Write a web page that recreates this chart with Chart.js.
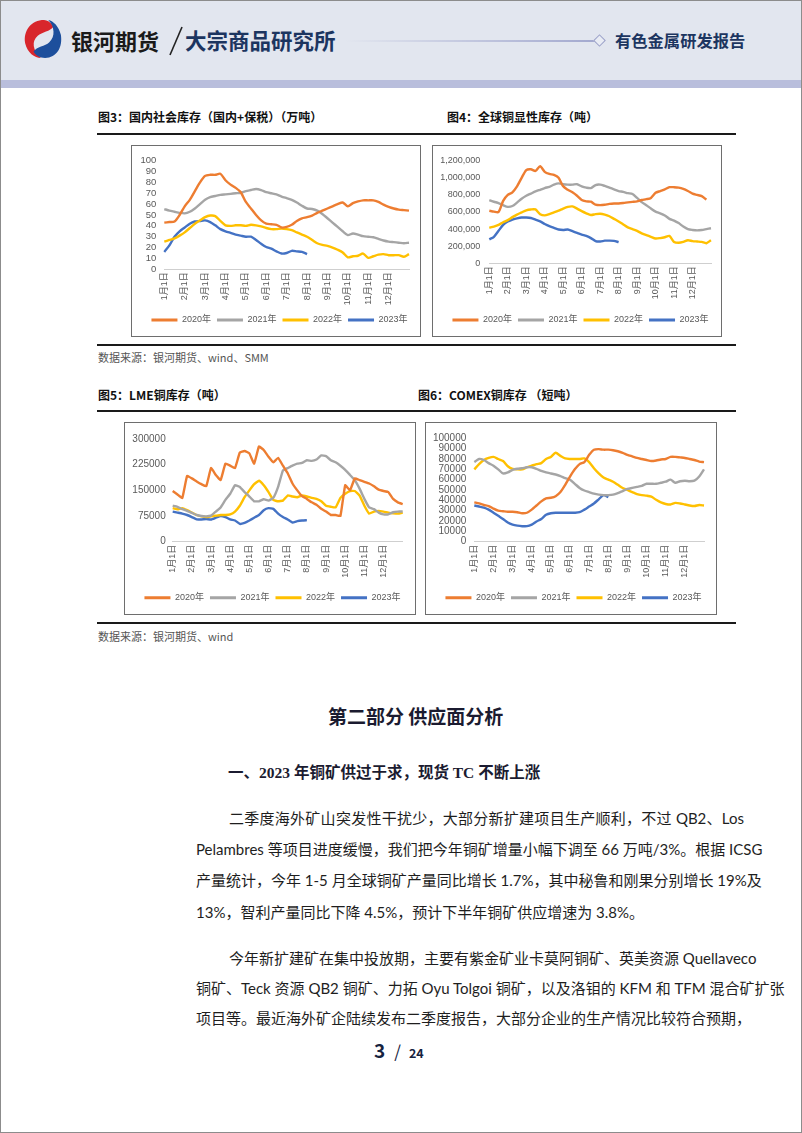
<!DOCTYPE html>
<html><head><meta charset="utf-8">
<script src="https://cdn.jsdelivr.net/npm/chart.js@4.4.0/dist/chart.umd.min.js"></script>
<style>
html,body{margin:0;padding:0;background:#fff;}
body{width:802px;height:1133px;position:relative;overflow:hidden;font-family:"Noto Sans CJK SC",sans-serif;}
.abs{position:absolute;white-space:nowrap;}
#frame{position:absolute;left:0;top:0;width:800px;height:1131px;border:1px solid #8c8c8c;}
#hdr{position:absolute;left:1px;top:1px;width:800px;height:79px;background:#e2e6ef;}
#band{position:absolute;left:1px;top:80px;width:800px;height:8px;background:#b9bedc;}
.cap{font-size:12px;font-weight:700;color:#111;line-height:16px;}
.rule{position:absolute;height:1.5px;background:#1a1a1a;left:97px;width:639px;}
.box{position:absolute;border:1px solid #6e6e6e;overflow:hidden;background:#fff;}
.box canvas{position:absolute;left:0;top:0;}
.src{font-size:11px;color:#555;line-height:14px;}
.p{position:absolute;font-size:15px;line-height:22px;color:#1e1e1e;font-family:Lato,"Noto Sans CJK SC",sans-serif;white-space:nowrap;text-align:justify;text-align-last:justify;}
</style></head>
<body>
<div id="frame"></div>
<div id="hdr"></div>
<div id="band"></div>
<svg class="abs" style="left:22px;top:18px" width="42" height="42" viewBox="0 0 40 40">
 <path d="M21 2 C9 2 1 12 3 24 C5 33 12 38 18 38 C10 31 9 22 15 17 C19 13 27 13 30 8 C27 4 24 2 21 2Z" fill="#d8262c"/>
 <path d="M22 38 C33 38 39 28 37 16 C35 8 30 3 25 2 C31 8 32 18 26 23 C22 27 14 27 11 32 C13 36 17 38 22 38Z" fill="#1d4f9c"/>
</svg>
<div class="abs" style="left:71px;top:25px;font-size:22px;font-weight:700;color:#1a1a1a;line-height:30px;">银河期货</div>
<svg class="abs" style="left:166px;top:24px" width="20" height="34"><line x1="4" y1="31" x2="16" y2="3" stroke="#222" stroke-width="1.6"/></svg>
<div class="abs" style="left:185px;top:25px;font-size:21.5px;font-weight:700;color:#1c3560;line-height:30px;">大宗商品研究所</div>
<div class="abs" style="left:345px;top:40px;width:250px;height:1.5px;background:linear-gradient(to right,rgba(170,176,210,0),#a3a9cf);"></div>
<div class="abs" style="left:595px;top:36px;width:7px;height:7px;border:1px solid #9aa0c8;transform:rotate(45deg);background:#e9ecf4;"></div>
<div class="abs" style="left:615px;top:29px;font-size:16.3px;font-weight:700;color:#1c3560;line-height:22px;">有色金属研发报告</div>

<div class="abs cap" style="left:98px;top:109px;">图3：国内社会库存（国内+保税）（万吨）</div>
<div class="abs cap" style="left:447px;top:109px;">图4：全球铜显性库存（吨）</div>
<div class="rule" style="top:133px;"></div>
<div class="box" style="left:131px;top:145px;width:288px;height:190px;"><canvas id="c3" width="288" height="200"></canvas></div>
<div class="box" style="left:432px;top:145px;width:288px;height:190px;"><canvas id="c4" width="288" height="200"></canvas></div>
<div class="rule" style="top:344px;"></div>
<div class="abs src" style="left:98px;top:350px;">数据来源：银河期货、wind、SMM</div>

<div class="abs cap" style="left:98px;top:387px;">图5：LME铜库存（吨）</div>
<div class="abs cap" style="left:418px;top:387px;">图6：COMEX铜库存 （短吨）</div>
<div class="rule" style="top:410px;"></div>
<div class="box" style="left:124px;top:422px;width:290px;height:191px;"><canvas id="c5" width="290" height="200"></canvas></div>
<div class="box" style="left:425px;top:422px;width:290px;height:191px;"><canvas id="c6" width="290" height="200"></canvas></div>
<div class="rule" style="top:622px;"></div>
<div class="abs src" style="left:98px;top:629px;">数据来源：银河期货、wind</div>

<div class="abs" style="left:328px;top:703px;font-size:19px;font-weight:700;color:#1b1b30;line-height:26px;">第二部分 供应面分析</div>
<div class="abs" style="left:228px;top:762px;font-size:15.5px;font-weight:700;color:#1b1b30;line-height:22px;font-family:'Liberation Serif','Noto Sans CJK SC',serif;">一、2023 年铜矿供过于求，现货 TC 不断上涨</div>

<div class="p" style="left:229px;top:807px;width:515px;">二季度海外矿山突发性干扰少，大部分新扩建项目生产顺利，不过 QB2、Los</div>
<div class="p" style="left:196px;top:838px;width:548px;">Pelambres 等项目进度缓慢，我们把今年铜矿增量小幅下调至 66 万吨/3%。根据 ICSG</div>
<div class="p" style="left:196px;top:869px;width:548px;">产量统计，今年 1-5 月全球铜矿产量同比增长 1.7%，其中秘鲁和刚果分别增长 19%及</div>
<div class="p" style="left:196px;top:901px;text-align:left;text-align-last:left;">13%，智利产量同比下降 4.5%，预计下半年铜矿供应增速为 3.8%。</div>
<div class="p" style="left:229px;top:947px;width:515px;">今年新扩建矿在集中投放期，主要有紫金矿业卡莫阿铜矿、英美资源 Quellaveco</div>
<div class="p" style="left:196px;top:977px;width:548px;">铜矿、Teck 资源 QB2 铜矿、力拓 Oyu Tolgoi 铜矿，以及洛钼的 KFM 和 TFM 混合矿扩张</div>
<div class="p" style="left:196px;top:1007px;width:548px;">项目等。最近海外矿企陆续发布二季度报告，大部分企业的生产情况比较符合预期，</div>

<div class="abs" style="left:374px;top:1038px;line-height:24px;color:#17233f;font-family:'Noto Sans CJK SC',sans-serif;">
<span style="font-size:19px;font-weight:700;">3</span><span style="font-size:17px;margin:0 8px 0 9px;">/</span><span style="font-size:12.5px;font-weight:700;">24</span></div>

<script>
// ---- categories & ticks ----
const categories = [];
for (let m = 1; m <= 12; m++) { for (const d of [1, 8, 16, 23]) categories.push(m + '月' + d + '日'); }
categories.push('12月31日');
const tickLabels = ['1月1日','2月1日','3月1日','4月1日','5月1日','6月1日','7月1日','8月1日','9月1日','10月1日','11月1日','12月1日'];
const seriesNames = ['2020年','2021年','2022年','2023年'];
const seriesColors = ['#ED7D31','#A5A5A5','#FFC000','#4472C4'];

// ---- 图3 国内社会库存（万吨） ----
const dom2020 = [43,43.5,44,50, 58,64,72,80, 86,87,87,88, 82,78,75,71, 62,56,50,45, 42,41.5,41,38.5, 39,41,44.5,47, 48,49.5,52,54, 56,58,60,61.5, 58,61,62.5,63.5, 63.5,63.5,62,59.5, 57.5,56,55,54.5,54];
const dom2021 = [55.5,54,53,52, 51.5,53,56,60, 64,66.5,67.5,68.5, 69,69.5,70,70.5, 72,73,74,73, 71,70,69,67, 65.5,64,61.5,58.5, 56,55.5,54,51, 47,43,39,35, 31.5,33,32,30.5, 30,29.5,28,26.5, 25.5,25,24.5,24,24.5];
const dom2022 = [25.5,27,28.5,31, 34,38,42,45, 48,49.5,49,44.5, 40.5,40,40.5,40.5, 40,41,40.5,39.5, 38,37,37,37.5, 37,36,34,32, 30,27,24,22.5, 21.5,20,18,15.5, 11,12,12.5,14.5, 10.5,12,13.5,14, 13,13,13,11.5,14];
const dom2023 = [16,22,30,35, 38.5,42,44,44.5, 45,43.5,40.5,37, 35,33.5,32,31, 30,30,27,23.5, 20.5,19,16.5,14.5, 15,17,16.5,16, 14];

// ---- 图4 全球铜显性库存（吨） ----
const vis2020 = [615000,605000,600000,730000, 800000,830000,900000,1000000, 1090000,1100000,1080000,1135000, 1070000,1045000,1035000,1000000, 900000,860000,830000,790000, 740000,725000,720000,685000, 680000,685000,695000,700000, 700000,705000,712000,718000, 725000,740000,750000,765000, 825000,845000,865000,890000, 890000,885000,870000,845000, 815000,800000,785000,745000,null];
const vis2021 = [740000,720000,705000,680000, 660000,670000,710000,755000, 790000,815000,840000,860000, 880000,895000,920000,935000, 925000,920000,920000,925000, 900000,885000,880000,915000, 920000,905000,885000,865000, 845000,835000,820000,810000, 765000,715000,680000,640000, 605000,585000,560000,520000, 500000,470000,430000,400000, 390000,385000,390000,400000,410000];
const vis2022 = [415000,430000,450000,480000, 505000,540000,570000,595000, 620000,630000,630000,575000, 560000,575000,595000,615000, 640000,660000,665000,640000, 610000,585000,565000,575000, 580000,570000,550000,520000, 490000,455000,420000,400000, 380000,350000,330000,310000, 290000,295000,305000,320000, 250000,240000,250000,270000, 260000,255000,250000,235000,270000];
const vis2023 = [280000,310000,380000,450000, 490000,510000,525000,535000, 535000,530000,510000,490000, 460000,435000,415000,395000, 390000,395000,375000,355000, 335000,320000,295000,260000, 255000,265000,265000,262000, 248000];

// ---- 图5 LME铜库存（吨） ----
const lme2020 = [148000,138000,128000,192000, 185000,176000,168000,162000, 215000,195000,180000,228000, 222000,215000,260000,265000, 258000,228000,278000,268000, 248000,232000,245000,222000, 200000,170000,150000,133000, 125000,115000,108000,96000, 88000,78000,78000,75000, 165000,150000,185000,180000, 175000,170000,162000,152000, 148000,145000,125000,115000,110000];
const lme2021 = [105000,102000,95000,90000, 84000,78000,75000,74000, 76000,88000,100000,122000, 140000,165000,160000,145000, 132000,118000,118000,124000, 120000,128000,160000,208000, 215000,222000,228000,230000, 238000,236000,240000,252000, 250000,238000,232000,222000, 210000,195000,180000,155000, 125000,100000,95000,85000, 80000,80000,86000,88000,88000];
const lme2022 = [98000,95000,98000,92000, 85000,78000,74000,72000, 74000,76000,78000,78000, 80000,88000,105000,130000, 150000,168000,178000,165000, 145000,122000,118000,120000, 135000,132000,130000,135000, 132000,128000,125000,118000, 105000,102000,100000,128000, 140000,148000,148000,135000, 105000,82000,88000,90000, 88000,85000,83000,82000,85000];
const lme2023 = [88000,85000,82000,78000, 72000,65000,65000,66000, 65000,70000,75000,72000, 65000,62000,52000,55000, 62000,70000,78000,92000, 98000,96000,82000,72000, 65000,56000,60000,62000, 63000];

// ---- 图6 COMEX铜库存（短吨） ----
const comex2020 = [38000,37000,35500,34500, 32000,30000,29500,29000, 29000,28500,27500,28000, 31000,35000,39000,42000, 42500,44000,48000,55000, 63000,70000,75000,77000, 84000,89000,89500,89000, 89000,88500,87500,86000, 84000,82500,81000,80000, 79000,78000,78500,79500, 80000,82000,82000,81500, 81000,80000,79000,77500,77000];
const comex2021 = [77000,80000,79000,76000, 73500,70000,66000,67000, 69500,70500,71000,72000, 72000,70500,68500,67000, 66000,65000,63500,61500, 60000,56000,52000,49500, 48000,46500,45500,45000, 45000,45500,47000,49000, 51000,52000,53000,54000, 56000,56000,56000,57000, 58000,60000,57000,58500, 59000,58500,59000,63000,70000];
const comex2022 = [70000,75000,79000,81000, 82000,80000,78000,73000, 70500,70000,70000,72000, 73500,75000,76000,80000, 82000,86000,83000,80500, 80000,80000,80000,80500, 77000,71000,66000,62000, 60000,58000,55000,52000, 50000,48000,46000,45000, 44500,43500,40500,38000, 36500,36000,37500,37000, 36000,35000,34500,35500,35000];
const comex2023 = [35000,34000,33000,31000, 28000,25000,22000,18500, 16500,15500,15000,15000, 16500,19500,22000,26000, 27500,28000,28000,28000, 28000,28000,28500,31000, 34000,37000,41000,45000, 43000];

const FONT = '"Liberation Sans","Noto Sans CJK SC",sans-serif';

function makeChart(id, sets, o) {
  return new Chart(document.getElementById(id), {
    type: 'line',
    data: {
      labels: categories,
      datasets: sets.map((d, i) => ({
        label: seriesNames[i], data: d, borderColor: seriesColors[i], backgroundColor: seriesColors[i],
        borderWidth: 2.4, pointRadius: 0, tension: o.tension, fill: false, spanGaps: false
      }))
    },
    options: {
      responsive: false, animation: false, devicePixelRatio: 1,
      layout: { padding: { left: o.L, right: 0, top: o.top, bottom: o.pb } },
      plugins: {
        legend: {
          position: 'bottom',
          labels: {
            boxWidth: 26, boxHeight: 3, padding: 6, color: '#595959', font: { family: FONT, size: 9 },
            generateLabels: (chart) => Chart.defaults.plugins.legend.labels.generateLabels(chart)
              .map(l => Object.assign(l, { lineWidth: 0, fillStyle: l.strokeStyle }))
          }
        },
        tooltip: { enabled: false }
      },
      scales: {
        x: {
          type: 'category',
          grid: { display: false, drawTicks: false },
          border: { display: true, color: '#cfcfcf', width: 1 },
          ticks: { autoSkip: false, minRotation: 90, maxRotation: 90, padding: 3, color: '#595959', font: { family: FONT, size: 9 } },
          afterBuildTicks: s => { s.ticks = s.ticks.filter(t => tickLabels.includes(categories[t.value])); },
          afterFit: s => { s.height = o.xh; }
        },
        y: {
          min: o.min, max: o.max,
          grid: { display: false, drawTicks: false },
          border: { display: false },
          ticks: { autoSkip: false, stepSize: o.step, padding: o.ypad, color: '#595959', font: { family: FONT, size: o.yfs }, callback: o.fmt },
          afterBuildTicks: s => {
            const t = [];
            for (let v = o.min; v <= o.max; v += o.step) t.push({ value: v });
            s.ticks = t;
          },
          afterFit: s => { s.width = o.yw; }
        },
        yr: {
          position: 'right', display: true,
          grid: { display: false, drawTicks: false }, border: { display: false },
          ticks: { display: false },
          afterFit: s => { s.width = o.R; }
        }
      }
    }
  });
}

const plain = v => String(v);
const comma = v => v.toLocaleString('en-US');

makeChart('c3', [dom2020, dom2021, dom2022, dom2023],
  { L: 7, yw: 25.3, R: 11, top: 14.7, xh: 40.2, pb: 11.5, min: 0, max: 100, step: 10, ypad: 8, yfs: 9.5, fmt: plain, tension: 0.25 });
makeChart('c4', [vis2020, vis2021, vis2022, vis2023],
  { L: 7, yw: 49.3, R: 10, top: 14.7, xh: 46.2, pb: 11.5, min: 0, max: 1200000, step: 200000, ypad: 9, yfs: 9, fmt: comma, tension: 0.25 });
makeChart('c5', [lme2020, lme2021, lme2022, lme2023],
  { L: 5, yw: 42.7, R: 12.3, top: 16, xh: 45.5, pb: 10.8, min: 0, max: 300000, step: 75000, ypad: 7, yfs: 10, fmt: plain, tension: 0.1 });
makeChart('c6', [comex2020, comex2021, comex2022, comex2023],
  { L: 5, yw: 43.3, R: 12, top: 15.3, xh: 45.5, pb: 10.8, min: 0, max: 100000, step: 10000, ypad: 8, yfs: 10, fmt: plain, tension: 0.25 });
</script>
</body></html>
